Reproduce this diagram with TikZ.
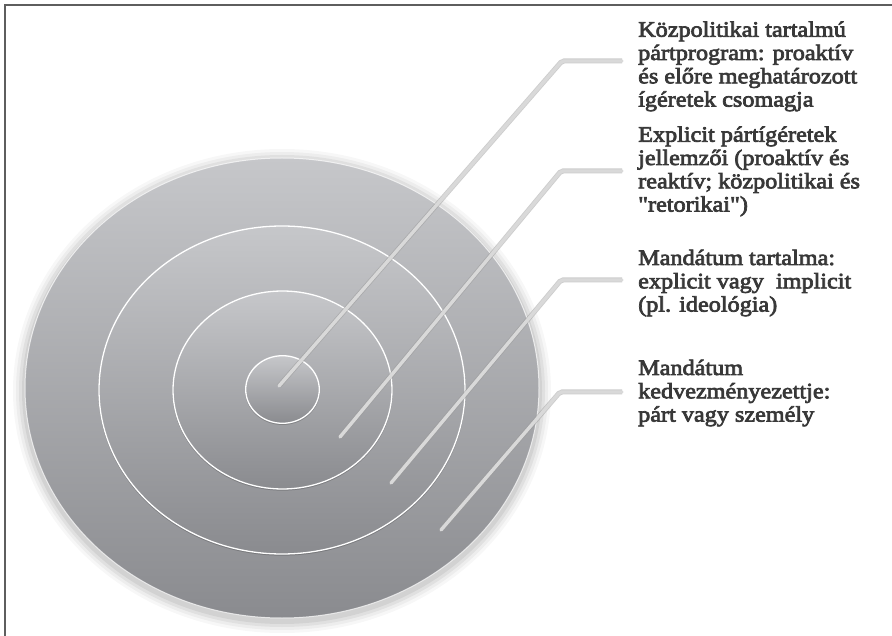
\documentclass[tikz,border=0pt]{standalone}
\usepackage{fontspec}
\newfontfamily\lblfont{Liberation Serif}[FakeBold=3.2,FakeStretch=1.1]
\usetikzlibrary{calc}

\definecolor{framegray}{HTML}{5E5E5E}
\definecolor{disctop}{HTML}{C6C7CA}
\definecolor{discbot}{HTML}{8A8B8F}
\definecolor{leader}{HTML}{D9D9D9}
\definecolor{leaderedge}{HTML}{9A9A9A}
\definecolor{labeltext}{HTML}{383838}

% left-aligned stack of lines whose baseline is that of the first line
\newcommand\stacklines[1]{\vtop{\baselineskip=23.3pt\lineskiplimit=-10pt\halign{##\hfil\cr#1\crcr}}}

\tikzset{
  disc/.style={top color=disctop, bottom color=discbot},
  ringline/.style={draw=white, line width=1.3pt},
  ringshade/.style={draw=black, opacity=0.18, line width=1.3pt},
  leaderline/.style={draw=leader, line width=3.4pt, line cap=round, line join=round,
    rounded corners=2pt, shorten >=16pt,
    preaction={draw=leaderedge, line width=5pt, opacity=0.5}},
  lbl/.style={anchor=base west, inner sep=0pt, text=labeltext,
    font=\lblfont\fontsize{22}{23.3}\selectfont},
}

\begin{document}
\begin{tikzpicture}[x=1pt,y=-1pt]
\useasboundingbox (0,0) rectangle (892,636);
\fill[white] (0,0) rectangle (892,636);

% frame: only the top and left edges are visible
\draw[framegray, line width=2pt] (5,636) -- (5,5) -- (892,5);

% soft shadow under the outer disc
\foreach \r/\o in {12/0.03,9/0.04,6/0.05,3/0.06}{
  \fill[black, opacity=\o] (282,391) ellipse [x radius=257+\r, y radius=230+\r];
}

% the four concentric discs
\coordinate (c) at (282,388);
\path[disc] (c) ellipse [x radius=257, y radius=230];
\draw[white, line width=1pt, opacity=0.7] (c) ellipse [x radius=257, y radius=230];

\draw[ringshade] (282,391) ellipse [x radius=183, y radius=164];
\path[disc] (282,390) ellipse [x radius=183, y radius=164];
\draw[ringline] (282,390) ellipse [x radius=183, y radius=164];

\draw[ringshade] (282.5,391) ellipse [x radius=109.5, y radius=99];
\path[disc] (282.5,390) ellipse [x radius=109.5, y radius=99];
\draw[ringline] (282.5,390) ellipse [x radius=109.5, y radius=99];

\draw[ringshade] (282.5,390.5) ellipse [x radius=36.8, y radius=33.8];
\path[disc] (282.5,389.5) ellipse [x radius=36.8, y radius=33.8];
\draw[ringline] (282.5,389.5) ellipse [x radius=36.8, y radius=33.8];

% leader start and bend points
\coordinate (s1) at (279,386);
\coordinate (b1) at (562,61);
\coordinate (s2) at (340,437);
\coordinate (b2) at (561,171);
\coordinate (s3) at (391,483);
\coordinate (b3) at (561,280);
\coordinate (s4) at (441,530);
\coordinate (b4) at (560,392);

% labels
\node[lbl] (lbl1) at (638,36.7) {\stacklines{K\"ozpolitikai tartalm\'u\cr
  p\'artprogram: proakt\'iv\cr
  \'es előre meghat\'arozott\cr
  \'ig\'eretek csomagja}};
\node[lbl] (lbl2) at (638,141.7) {\stacklines{Explicit p\'art\'ig\'eretek\cr
  jellemzői (proakt\'iv \'es\cr
  reakt\'iv; k\"ozpolitikai \'es\cr
  "retorikai")}};
\node[lbl] (lbl3) at (638,265) {\stacklines{Mand\'atum tartalma:\cr
  explicit vagy\ \ implicit\cr
  (pl. ideol\'ogia)}};
\node[lbl] (lbl4) at (638,375) {\stacklines{Mand\'atum\cr
  kedvezm\'enyezettje:\cr
  p\'art vagy szem\'ely}};

% leaders
\draw[leaderline] (s1) -- (b1) -- (b1 -| lbl1.west);
\draw[leaderline] (s2) -- (b2) -- (b2 -| lbl2.west);
\draw[leaderline] (s3) -- (b3) -- (b3 -| lbl3.west);
\draw[leaderline] (s4) -- (b4) -- (b4 -| lbl4.west);
\end{tikzpicture}
\end{document}
